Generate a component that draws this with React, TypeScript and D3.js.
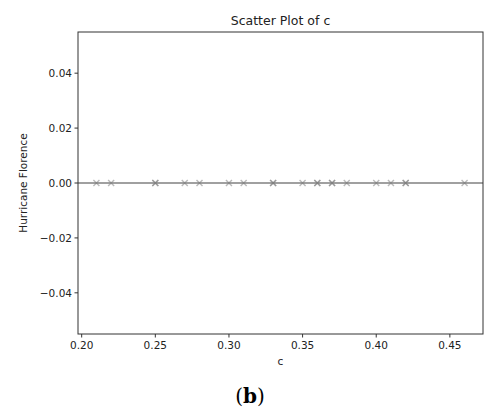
import React from "react";
import * as d3 from "d3";

const cValues = [0.21, 0.22, 0.25, 0.25, 0.27, 0.28, 0.3, 0.31, 0.33, 0.33, 0.35, 0.36, 0.36, 0.37, 0.37, 0.38, 0.4, 0.41, 0.42, 0.42, 0.46];
const yValues = cValues.map(() => 0);
const xTicks = [0.2, 0.25, 0.3, 0.35, 0.4, 0.45];
const yTicks = [0.04, 0.02, 0, -0.02, -0.04];
const title = "Scatter Plot of c";
const xLabel = "c";
const yLabel = "Hurricane Florence";
const caption = "b";

export default function App() {
  const W = 485, H = 411;
  const left = 78, right = 483, top = 32, bottom = 334;
  const x = d3.scaleLinear().domain([0.1975, 0.4725]).range([left, right]);
  const y = d3.scaleLinear().domain([-0.055, 0.055]).range([bottom, top]);
  const font = "DejaVu Sans, sans-serif";
  const fmtY = (v: number) => (v < 0 ? "\u2212" : "") + Math.abs(v).toFixed(2);
  const m = 3;
  return (
    <svg width={W} height={H} style={{ position: "absolute", left: 0, top: 0, background: "#fff" }}>
      <rect x={0} y={0} width={W} height={H} fill="#fff" />
      <line x1={left} x2={right} y1={y(0)} y2={y(0)} stroke="#808080" strokeWidth={1.5} />
      {cValues.map((c, i) => (
        <g key={i} transform={`translate(${x(c)},${y(yValues[i])})`} stroke="#808080" strokeOpacity={0.55} strokeWidth={1.4}>
          <line x1={-m} y1={-m} x2={m} y2={m} />
          <line x1={-m} y1={m} x2={m} y2={-m} />
        </g>
      ))}
      <rect x={left} y={top} width={right - left} height={bottom - top} fill="none" stroke="#333" strokeWidth={1} />
      {xTicks.map((t) => (
        <g key={t}>
          <line x1={x(t)} x2={x(t)} y1={bottom} y2={bottom + 3.5} stroke="#333" />
          <text x={x(t)} y={bottom + 15} textAnchor="middle" fontFamily={font} fontSize={10.5} fill="#222">
            {t.toFixed(2)}
          </text>
        </g>
      ))}
      {yTicks.map((t) => (
        <g key={t}>
          <line x1={left - 3.5} x2={left} y1={y(t)} y2={y(t)} stroke="#333" />
          <text x={left - 6} y={y(t) + 4} textAnchor="end" fontFamily={font} fontSize={10.5} fill="#222">
            {fmtY(t)}
          </text>
        </g>
      ))}
      <text x={(left + right) / 2} y={25} textAnchor="middle" fontFamily={font} fontSize={12.5} fill="#222">
        {title}
      </text>
      <text x={(left + right) / 2} y={365} textAnchor="middle" fontFamily={font} fontSize={10.5} fill="#222">
        {xLabel}
      </text>
      <text transform={`translate(27,${(top + bottom) / 2}) rotate(-90)`} textAnchor="middle" fontFamily={font} fontSize={10.5} fill="#222">
        {yLabel}
      </text>
      <text x={250} y={403} textAnchor="middle" fontFamily="DejaVu Serif, Liberation Serif, serif" fontSize={20} fill="#000">
        (<tspan fontWeight="bold">{caption}</tspan>)
      </text>
    </svg>
  );
}
